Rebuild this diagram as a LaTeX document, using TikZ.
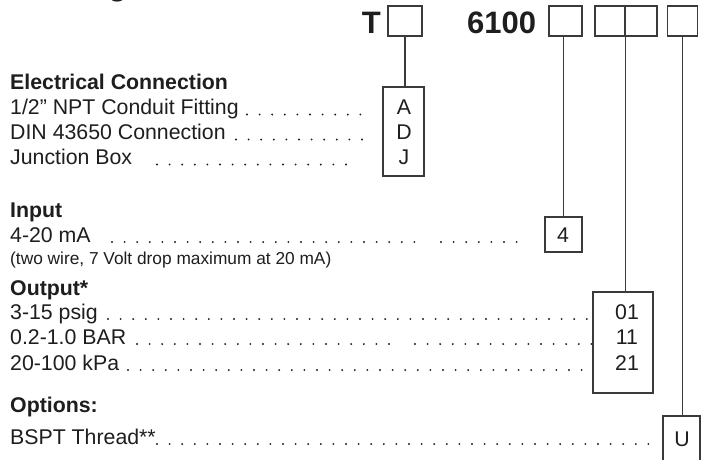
\documentclass[tikz,border=0pt]{standalone}
\usepackage{fontspec}
\setmainfont{Liberation Sans}
\definecolor{ink}{HTML}{1E1E1E}
\definecolor{rulec}{HTML}{3A3A3A}
\begin{document}
\begin{tikzpicture}[x=1pt,y=-1pt,
  txt/.style={anchor=base west, inner sep=0pt, text=ink, font=\fontsize{21.3}{25}\selectfont},
  head/.style={txt, font=\fontsize{21.3}{25}\selectfont\bfseries},
  note/.style={txt, font=\fontsize{17.3}{20}\selectfont},
  big/.style={inner sep=0pt, text=ink, font=\fontsize{31}{34}\selectfont\bfseries},
  code/.style={inner sep=0pt, text=ink, font=\fontsize{21.3}{25}\selectfont},
  cbox/.style={draw=rulec, line width=1.3pt, inner sep=0pt},
  conn/.style={draw=rulec, line width=1.3pt},
  leader/.style={draw=ink, line width=2.1pt, line cap=round, dash pattern=on 0pt off 12.6pt}
]
\useasboundingbox (0,0) rectangle (705,459);
\clip (0,0) rectangle (705,459);
\fill[white] (0,0) rectangle (705,459);

% cut-off title fragment
\node[big, anchor=base west] (gfrag) at (108,-5) {g};

% top code row
\node[big, anchor=base east] (T) at (381,33) {T};
\node[big, anchor=base west] (num) at (467,33) {6100};
\node[cbox, minimum width=34pt, minimum height=30pt] (bT) at (405,21) {};
\node[cbox, minimum width=33pt, minimum height=30pt] (b1) at (565.5,21) {};
\node[cbox, minimum width=30pt, minimum height=30pt] (b2) at (610,21) {};
\node[cbox, minimum width=32pt, minimum height=30pt] (b3) at (641,21) {};
\node[cbox, minimum width=30pt, minimum height=30pt] (b4) at (682.5,21) {};

% option boxes
\node[cbox, minimum width=41pt, minimum height=89pt] (adj) at (403.5,131.5) {};
\node[cbox, minimum width=37pt, minimum height=35pt] (four) at (563.5,234.5) {};
\node[cbox, minimum width=60pt, minimum height=101pt] (out) at (623,342.5) {};
\node[cbox, minimum width=37pt, minimum height=60pt] (ubox) at (681.5,446) {};

% connectors
\draw[conn] (bT.south) -- (bT.south |- adj.north);
\draw[conn] (four.north |- b1.south) -- (four.north);
\draw[conn] (b2.south east) -- (b2.south east |- out.north);
\draw[conn] (b4.south) -- (b4.south |- ubox.north);

% codes in boxes
\node[code, anchor=base] (cA) at (404,114.5) {A};
\node[code, anchor=base] (cD) at (404,139.5) {D};
\node[code, anchor=base] (cJ) at (404,164.5) {J};
\node[code, anchor=base] (c4) at (563,242) {4};
\node[code, anchor=base] (c01) at (627,319) {01};
\node[code, anchor=base] (c11) at (627,344) {11};
\node[code, anchor=base] (c21) at (627,370) {21};
\node[code, anchor=base] (cU) at (682,446) {U};

% Electrical connection
\node[head] (h1) at (10,89.5) {Electrical Connection};
\node[txt] (r1) at (10,114.5) {1/2” NPT Conduit Fitting};
\node[txt] (r2) at (10,139.5) {DIN 43650 Connection};
\node[txt] (r3) at (10,164.5) {Junction Box};
\draw[leader] (247,114.5) -- (362,114.5);
\draw[leader] (236,139.5) -- (363,139.5);
\draw[leader] (157,164.5) -- (358,164.5);

% Input
\node[head] (h2) at (10,217) {Input};
\node[txt] (r4) at (10,242) {4-20 mA};
\draw[leader] (112,242) -- (422,242);
\draw[leader] (441,242) -- (517,242);
\node[note] (r5) at (10,264) {(two wire, 7 Volt drop maximum at 20 mA)};

% Output
\node[head] (h3) at (10,295) {Output*};
\node[txt] (r6) at (10,319) {3-15 psig};
\node[txt] (r7) at (10,344) {0.2-1.0 BAR};
\node[txt] (r8) at (10,370) {20-100 kPa};
\draw[leader] (108,319) -- (593,319);
\draw[leader] (137,344) -- (390,344);
\draw[leader] (415,344) -- (593,344);
\draw[leader] (128,370) -- (593,370);

% Options
\node[head] (h4) at (10,412) {Options:};
\node[txt] (r9) at (10,444) {BSPT Thread**};
\draw[leader] (157,444) -- (656,444);
\end{tikzpicture}
\end{document}
